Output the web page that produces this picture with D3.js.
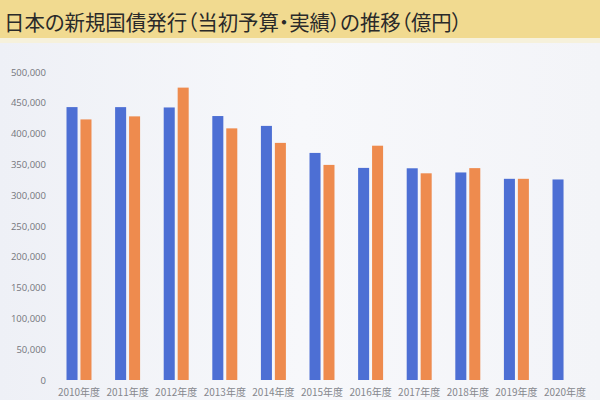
<!DOCTYPE html>
<html><head><meta charset="utf-8">
<script src="https://cdn.jsdelivr.net/npm/d3@7"></script>
<style>html,body{margin:0;padding:0;background:#f4f5f9;}svg{display:block;}</style>
</head><body>
<svg id="c" width="600" height="400"></svg>
<script>
const title = "日本の新規国債発行（当初予算・実績）の推移（億円）";
const categories = ["2010年度","2011年度","2012年度","2013年度","2014年度","2015年度","2016年度","2017年度","2018年度","2019年度","2020年度"];
const seriesNames = ["当初予算","実績"];
const budget = [443030, 442980, 442440, 428510, 412500, 368630, 344320, 343698, 336922, 326605, 325562];
const actual = [423030, 427980, 474650, 408510, 384929, 349183, 380346, 335546, 343954, 326605, null];
const yTicks = [0,50000,100000,150000,200000,250000,300000,350000,400000,450000,500000];
const colors = ["#4d6fd4", "#ee8b4e"];

const svg = d3.select("#c");
const defs = svg.append("defs");
const g1 = defs.append("linearGradient").attr("id","bg").attr("x1","0").attr("x2","1").attr("y1","0").attr("y2","0");
g1.append("stop").attr("offset","0").attr("stop-color","#eef0f6");
g1.append("stop").attr("offset","0.5").attr("stop-color","#f7f8fb");
g1.append("stop").attr("offset","1").attr("stop-color","#f3f4f8");
svg.append("rect").attr("width",600).attr("height",400).attr("fill","url(#bg)");
svg.append("rect").attr("x",0).attr("y",0).attr("width",600).attr("height",38).attr("fill","#f1da90");
svg.append("rect").attr("x",0).attr("y",38).attr("width",600).attr("height",5).attr("fill","#f6f1dc");
const t = svg.append("text").attr("x",4).attr("y",30)
  .attr("font-family","'Noto Sans CJK JP', sans-serif").attr("font-size",21)
  .style("font-feature-settings","'palt'")
  .attr("fill","#2a2a2a").text(title);
t.attr("textLength", 458).attr("lengthAdjust","spacingAndGlyphs");

const y = d3.scaleLinear().domain([0,500000]).range([380,72]);
const x0 = d3.scaleBand().domain(categories).range([54.7,589.3]).paddingInner(0.486).paddingOuter(0.243);
const x1 = d3.scaleBand().domain(seriesNames).range([0,x0.bandwidth()]).paddingInner(0.21).paddingOuter(0);

const yAxis = svg.append("g").attr("transform","translate(50,0)")
  .call(d3.axisLeft(y).tickValues(yTicks).tickFormat(d3.format(",")).tickSize(0).tickPadding(4));
yAxis.select(".domain").remove();
yAxis.selectAll("text").attr("font-family","'Open Sans', sans-serif").attr("font-size",9.5).attr("fill","#74767c");

const data = categories.map((c,i)=>({c, vals:[budget[i], actual[i]]}));
const grp = svg.append("g").selectAll("g").data(data).join("g")
  .attr("transform", d=>`translate(${x0(d.c)},0)`);
grp.selectAll("rect").data(d=>d.vals.map((v,j)=>({v, s:seriesNames[j], j})).filter(e=>e.v!=null))
  .join("rect")
  .attr("x", e=>x1(e.s)).attr("width", x1.bandwidth())
  .attr("y", e=>y(e.v)).attr("height", e=>y(0)-y(e.v))
  .attr("fill", e=>colors[e.j]);

const xAxis = svg.append("g").attr("transform","translate(0,385)")
  .call(d3.axisBottom(x0).tickSize(0).tickPadding(4));
xAxis.select(".domain").remove();
xAxis.selectAll("text").attr("font-family","'Noto Sans CJK JP', sans-serif").attr("font-size",10).attr("fill","#85878d");
</script>
</body></html>
